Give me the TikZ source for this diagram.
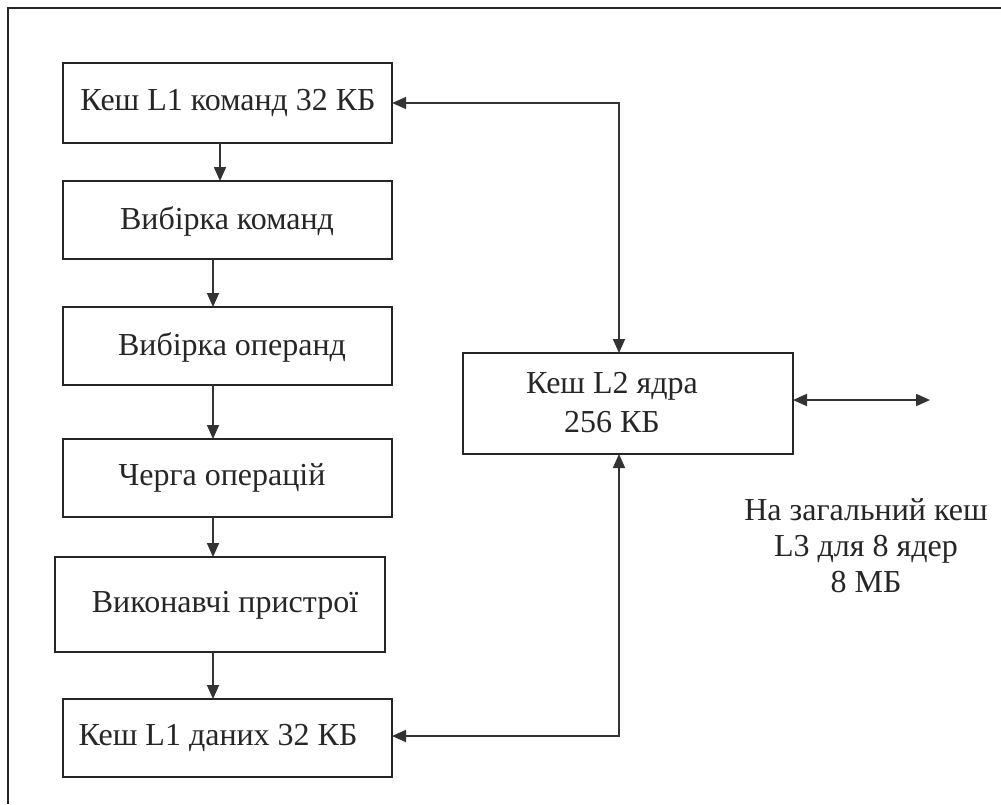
\documentclass[tikz,border=0pt]{standalone}
\usepackage{fontspec}
\setmainfont{Liberation Serif}
\usetikzlibrary{arrows.meta}
\begin{document}
\begin{tikzpicture}[x=1pt,y=-1pt,
  blk/.style={draw=black!85,line width=2pt,rectangle,inner sep=0pt},
  conn/.style={line width=1.8pt,draw=black!80},
  tip/.style={-{Triangle[length=14pt,width=12pt]}},
  tips/.style={{Triangle[length=14pt,width=12pt]}-{Triangle[length=14pt,width=12pt]}},
  txt/.style={font=\fontsize{32}{36}\selectfont,align=center,inner sep=0pt,text=black!85}]
\useasboundingbox (0,0) rectangle (1001,804);
\fill[white] (0,0) rectangle (1001,804);
\draw[line width=2pt,black!85] (8,804) -- (8,8) -- (1001,8);
% boxes
\draw[blk] (63,63) rectangle (392,143); \node (b1) at (227.5,103) [minimum width=329pt,minimum height=80pt,inner sep=0pt] {};
\draw[blk] (63,181) rectangle (392,259); \node (b2) at (227.5,220) [minimum width=329pt,minimum height=78pt,inner sep=0pt] {};
\draw[blk] (63,307) rectangle (392,385); \node (b3) at (227.5,346) [minimum width=329pt,minimum height=78pt,inner sep=0pt] {};
\draw[blk] (63,439) rectangle (392,517); \node (b4) at (227.5,478) [minimum width=329pt,minimum height=78pt,inner sep=0pt] {};
\draw[blk] (55,557) rectangle (385,652); \node (b5) at (220,604.5) [minimum width=330pt,minimum height=95pt,inner sep=0pt] {};
\draw[blk] (63,699) rectangle (392,777); \node (b6) at (227.5,738) [minimum width=329pt,minimum height=78pt,inner sep=0pt] {};
\draw[blk] (463,353) rectangle (793,454); \node (l2) at (628,403.5) [minimum width=330pt,minimum height=101pt,inner sep=0pt] {};
% texts
\node[txt] (t1) at (228,103) {Кеш L1 команд 32 КБ};
\node[txt] (t2) at (227,221) {Вибірка команд};
\node[txt] (t3) at (232,347) {Вибірка операнд};
\node[txt] (t4) at (222,478) {Черга операцій};
\node[txt] (t5) at (225,605) {Виконавчі пристрої};
\node[txt] (t6) at (218,738) {Кеш L1 даних 32 КБ};
\node[txt] (t7) at (612,386) {Кеш L2 ядра};
\node[txt] (t8) at (612,422) {256 КБ};
\node[txt] (t9) at (866,546) {На загальний кеш\\L3 для 8 ядер\\8 МБ};
% vertical arrows
\draw[conn,tip] (220,143) -- (220,181);
\draw[conn,tip] (213,259) -- (213,307);
\draw[conn,tip] (213,385) -- (213,439);
\draw[conn,tip] (213,517) -- (213,557);
\draw[conn,tip] (213,652) -- (213,699);
% L2 connections
\draw[conn,tips] (b1.east) -- (619,103) -- (619,353);
\draw[conn,tips] (392,736) -- (619,736) -- (619,454);
\coordinate (l3) at (930,400);
\draw[conn,tips] (793,400) -- (l3);
\end{tikzpicture}
\end{document}
